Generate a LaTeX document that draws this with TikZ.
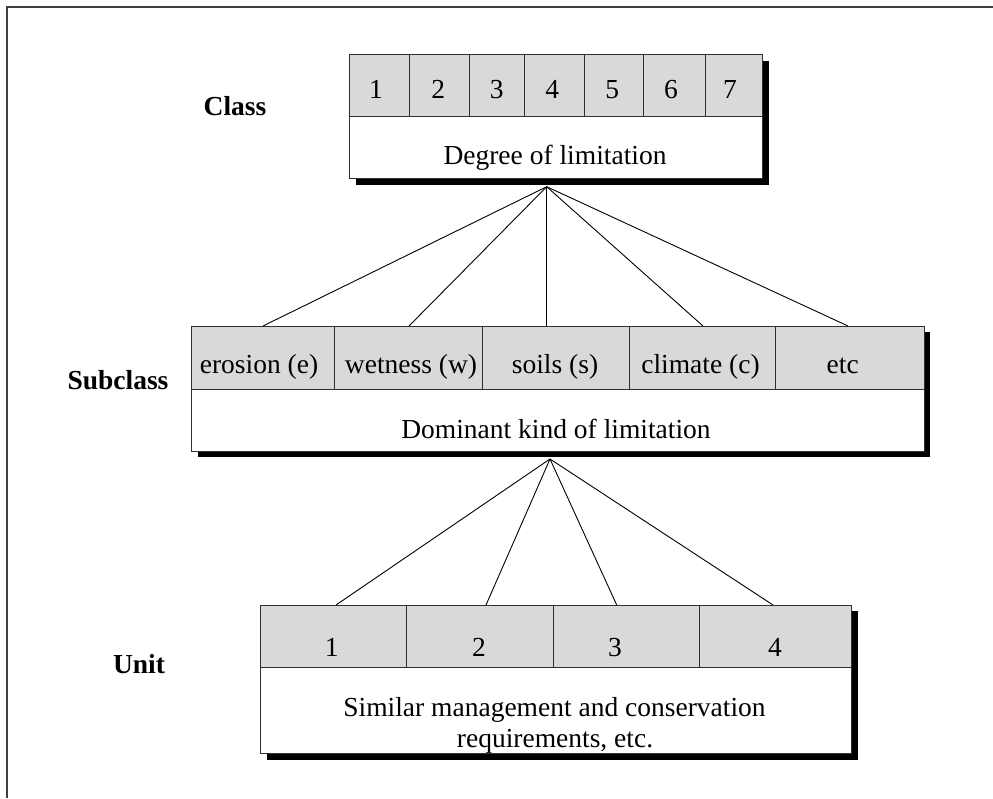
\documentclass[tikz,border=0pt]{standalone}
\usepackage{fontspec}
\setmainfont{Liberation Serif}
\definecolor{cellgray}{HTML}{D9D9D9}
\definecolor{boxline}{HTML}{303030}
\definecolor{framecol}{HTML}{404040}
\begin{document}
\begin{tikzpicture}[x=1pt,y=-1pt,
  cellbox/.style={draw=boxline, fill=cellgray, line width=1pt, inner sep=0pt, anchor=north west},
  bodybox/.style={draw=boxline, fill=white, line width=1pt, inner sep=0pt, anchor=north west},
  txt/.style={font=\fontsize{27.5}{30}\selectfont, anchor=base, inner sep=0pt},
  lbl/.style={font=\fontsize{27.5}{30}\selectfont\bfseries, anchor=base, inner sep=0pt},
  conn/.style={draw=black, line width=0.9pt},
  shadowfill/.style={fill=black}]
\useasboundingbox (0,0) rectangle (993,798);
\fill[white] (0,0) rectangle (993,798);
% frame
\draw[framecol, line width=2pt] (6.7,798) -- (6.7,7.3) -- (993,7.3);

% ---------- Class ----------
\fill[shadowfill] (356,61) rectangle (769,185);
\node[bodybox, minimum width=413pt, minimum height=62pt] (cbody) at (349,116) {};
\foreach \i/\a/\b in {1/349/408.7, 2/408.7/468.7, 3/468.7/524.3, 4/524.3/584.3, 5/584.3/643.3, 6/643.3/705, 7/705/762}{
  \pgfmathsetmacro{\w}{\b-\a}
  \node[cellbox, minimum width=\w pt, minimum height=62pt] (c\i) at (\a,54) {};
}
\foreach \i/\x in {1/376, 2/438.3, 3/496.7, 4/552.3, 5/612.3, 6/671, 7/730}{
  \node[txt] (ct\i) at (\x,98) {\i};
}
\node[txt] (cdesc) at (555,164) {Degree of limitation};
\node[lbl] (classlbl) at (235,115) {Class};

% ---------- Subclass ----------
\fill[shadowfill] (197.7,332) rectangle (930.3,457);
\node[bodybox, minimum width=733.6pt, minimum height=62pt] (sbody) at (190.7,389) {};
\foreach \i/\a/\b in {1/190.7/334, 2/334/481.7, 3/481.7/629.3, 4/629.3/775.3, 5/775.3/924.3}{
  \pgfmathsetmacro{\w}{\b-\a}
  \node[cellbox, minimum width=\w pt, minimum height=63pt] (s\i) at (\a,326) {};
}
\node[txt] (st1) at (259,373) {erosion (e)};
\node[txt] (st2) at (411,373) {wetness\ (w)};
\node[txt] (st3) at (555,373) {soils (s)};
\node[txt] (st4) at (700.5,373) {climate (c)};
\node[txt] (st5) at (842.7,373) {etc};
\node[txt] (sdesc) at (556,438) {Dominant kind of limitation};
\node[lbl] (subclasslbl) at (118,389) {Subclass};

% ---------- Unit ----------
\fill[shadowfill] (267,611) rectangle (858,759.5);
\node[bodybox, minimum width=591pt, minimum height=86pt] (ubody) at (260,667) {};
\foreach \i/\a/\b in {1/260/405.7, 2/405.7/553.3, 3/553.3/699.3, 4/699.3/851}{
  \pgfmathsetmacro{\w}{\b-\a}
  \node[cellbox, minimum width=\w pt, minimum height=62pt] (u\i) at (\a,605) {};
}
\foreach \i/\x in {1/331.7, 2/479, 3/615, 4/775}{
  \node[txt] (ut\i) at (\x,656.5) {\i};
}
\node[txt] (udesc1) at (554.5,716) {Similar management and conservation};
\node[txt] (udesc2) at (555,747) {requirements, etc.};
\node[lbl] (unitlbl) at (139,673) {Unit};

% ---------- connectors ----------
\coordinate (capex) at (546.7,186.7);
\coordinate (sapex) at (550,459);
\coordinate (sa1) at (263,326);
\coordinate (sa2) at (409,326);
\coordinate (sa3) at (546.7,326);
\coordinate (sa4) at (703,326);
\coordinate (sa5) at (848,326);
\foreach \i in {1,...,5}{ \draw[conn] (capex) -- (sa\i); }
\coordinate (ua1) at (336,605);
\coordinate (ua2) at (486,605);
\coordinate (ua3) at (616.7,605);
\coordinate (ua4) at (773,605);
\foreach \i in {1,...,4}{ \draw[conn] (sapex) -- (ua\i); }
\end{tikzpicture}
\end{document}
